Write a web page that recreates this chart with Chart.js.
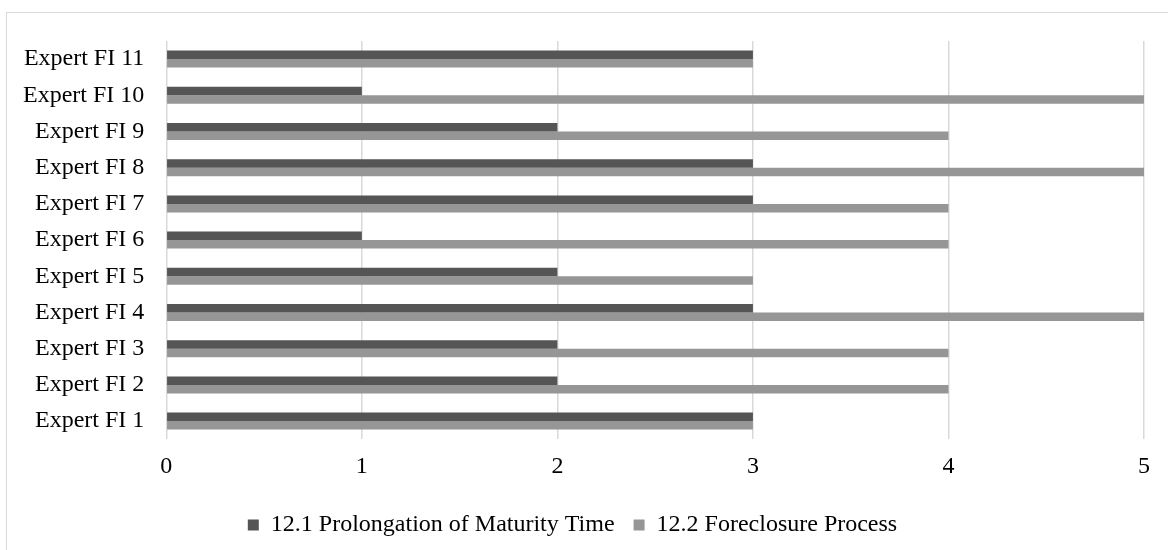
<!DOCTYPE html>
<html>
<head>
<meta charset="utf-8">
<script src="https://cdn.jsdelivr.net/npm/chart.js@4"></script>
<style>
  body { margin: 0; background: #fff; }
  #wrap { position: relative; width: 1168px; height: 550px; overflow: hidden; }
  #frame { position: absolute; left: 6px; top: 12px; right: -2px; bottom: -2px; border: 1px solid #d9d9d9; }
  canvas { position: absolute; left: 0; top: 0; }
</style>
</head>
<body>
<div id="wrap">
  <div id="frame"></div>
  <canvas id="chart" width="1168" height="550"></canvas>
</div>
<script>
const categories = ['Expert FI 1', 'Expert FI 2', 'Expert FI 3', 'Expert FI 4', 'Expert FI 5', 'Expert FI 6',
                    'Expert FI 7', 'Expert FI 8', 'Expert FI 9', 'Expert FI 10', 'Expert FI 11'];
const prolongation = [3, 2, 2, 3, 2, 1, 3, 3, 2, 1, 3];
const foreclosure = [3, 4, 4, 5, 3, 4, 4, 5, 4, 5, 3];
const xTicks = [0, 1, 2, 3, 4, 5];

const font = { family: '"Liberation Serif", "Times New Roman", serif', size: 24 };

const ctx = document.getElementById('chart').getContext('2d');
new Chart(ctx, {
    type: 'bar',
    data: {
        labels: categories,
        datasets: [{
            label: '12.1 Prolongation of Maturity Time',
            data: prolongation,
            backgroundColor: '#555555',
            categoryPercentage: 0.47,
            barPercentage: 1
        }, {
            label: '12.2 Foreclosure Process',
            data: foreclosure,
            backgroundColor: '#969696',
            categoryPercentage: 0.47,
            barPercentage: 1
        }]
    },
    options: {
        indexAxis: 'y',
        responsive: false,
        animation: false,
        layout: { padding: { left: 1, right: 24, top: 41, bottom: 3 } },
        plugins: {
            tooltip: { enabled: false },
            legend: {
                position: 'bottom',
                labels: {
                    color: '#000',
                    font: font,
                    boxWidth: 11,
                    boxHeight: 11,
                    padding: 19
                }
            }
        },
        scales: {
            x: {
                min: 0,
                max: 5,
                afterBuildTicks: axis => { axis.ticks = xTicks.map(v => ({ value: v })); },
                ticks: { color: '#000', font: font, padding: 13 },
                grid: { color: '#d9d9d9', lineWidth: 1.5, drawTicks: false },
                border: { display: false }
            },
            y: {
                reverse: true,
                ticks: { color: '#000', font: font, padding: 22 },
                grid: { display: false, drawTicks: false },
                border: { display: false }
            }
        }
    }
});
</script>
</body>
</html>
